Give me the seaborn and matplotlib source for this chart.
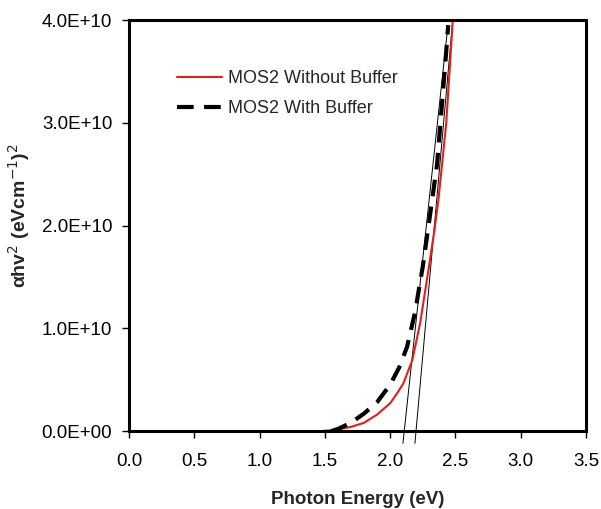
import numpy as np
import pandas as pd
import seaborn as sns
import matplotlib.pyplot as plt

# photon energy (eV) vs (alpha h nu)^2
energy_nobuf = [1.48, 1.60, 1.70, 1.80, 1.90, 2.00, 2.05, 2.10, 2.17, 2.23, 2.29, 2.34, 2.37, 2.43, 2.48]
val_nobuf = [0.0, 0.015, 0.04, 0.08, 0.16, 0.27, 0.36, 0.46, 0.69, 1.05, 1.54, 1.96, 2.25, 3.0, 4.0]

energy_buf = [1.55, 1.60, 1.70, 1.80, 1.90, 2.00, 2.07, 2.13, 2.19, 2.25, 2.30, 2.36, 2.43, 2.445]
val_buf = [0.0, 0.02, 0.08, 0.17, 0.28, 0.45, 0.62, 0.82, 1.15, 1.60, 2.05, 2.60, 3.70, 3.95]

# linear fits (Tauc extrapolation)
fit_buf_x = [2.098, 2.443]
fit_buf_y = [-0.12, 3.95]
fit_nobuf_x = [2.19, 2.48]
fit_nobuf_y = [-0.12, 4.0]

scale = 1e10
df_nobuf = pd.DataFrame({'E': energy_nobuf, 'v': np.array(val_nobuf) * scale})
df_buf = pd.DataFrame({'E': energy_buf, 'v': np.array(val_buf) * scale})

sns.set_style('white')
plt.rcParams['font.family'] = ['Liberation Sans', 'DejaVu Sans']

fig = plt.figure(figsize=(6.01, 5.09), dpi=100)
ax = fig.add_axes([0.2146, 0.1532, 0.7604, 0.8075])

ax.plot(fit_buf_x, np.array(fit_buf_y) * scale, color='black', lw=0.7, clip_on=False)
ax.plot(fit_nobuf_x, np.array(fit_nobuf_y) * scale, color='black', lw=0.7, clip_on=False)

sns.lineplot(data=df_nobuf, x='E', y='v', ax=ax, color='#e0201b', lw=1.5,
             sort=False, label='MOS2 Without Buffer', clip_on=False)
sns.lineplot(data=df_buf, x='E', y='v', ax=ax, color='black', lw=3,
             sort=False, label='MOS2 With Buffer', clip_on=False)
ax.lines[-1].set_dashes([4, 2.5])

ax.set_xlim(0, 3.5)
ax.set_ylim(0, 4e10)
ax.set_xticks(np.arange(0, 3.51, 0.5))
ax.set_xticklabels([f'{t:.1f}' for t in np.arange(0, 3.51, 0.5)])
yt = [0, 1e10, 2e10, 3e10, 4e10]
ax.set_yticks(yt)
ax.set_yticklabels(['0.0E+00', '1.0E+10', '2.0E+10', '3.0E+10', '4.0E+10'])

for s in ax.spines.values():
    s.set_linewidth(2.2)
    s.set_color('black')
ax.tick_params(axis='both', direction='out', length=5, width=1, colors='black',
               labelsize=13.5, bottom=True, left=True, top=False, right=False)
ax.tick_params(axis='x', pad=11)
ax.tick_params(axis='y', pad=7)

ax.set_xlabel('Photon Energy (eV)', fontsize=13.5, fontweight='bold')
ax.set_ylabel('αhv$^{2}$ (eVcm$^{-1}$)$^{2}$', fontsize=14, fontweight='bold')
ax.xaxis.set_label_coords(0.5, -0.145)
ax.yaxis.set_label_coords(-0.213, 0.525)

leg = ax.legend(loc='upper left', bbox_to_anchor=(0.07, 0.918), frameon=False,
                fontsize=13, handlelength=2.5, handletextpad=0.3, labelspacing=0.75)

fig.savefig('out.png', dpi=100)
